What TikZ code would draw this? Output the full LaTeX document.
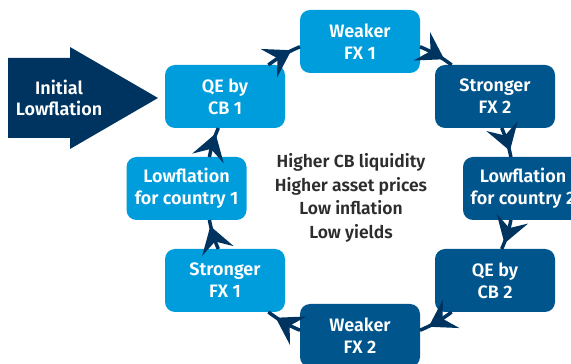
\documentclass[tikz,border=0pt]{standalone}
\usepackage{fontspec}
\setmainfont{Fira Sans}[BoldFont={Fira Sans SemiBold}]
\usetikzlibrary{arrows.meta,decorations.markings}
\definecolor{cblue}{RGB}{0,157,220}
\definecolor{cdark}{RGB}{0,86,140}
\definecolor{cnavy}{RGB}{0,52,96}
\definecolor{ctext}{RGB}{45,45,45}
\tikzset{
  stage/.style={rounded corners=10pt, minimum width=120pt, minimum height=63pt,
    inner sep=0pt, outer sep=0pt, text=white, align=center,
    font=\fontsize{18}{22}\selectfont\bfseries},
  stageA/.style={stage, fill=cblue},
  stageB/.style={stage, fill=cdark},
  flow/.style={draw=cnavy, color=cnavy, line width=3.5pt, postaction={decorate},
    decoration={markings, mark=at position 0.5 with
      {\arrow[xshift=9pt]{Stealth[length=26pt,width=33pt,inset=10pt,line width=0pt]}}}},
}
\begin{document}
\begin{tikzpicture}[x=1pt,y=1pt]
\clip (0,0) rectangle (571,364);
\fill[white] (0,0) rectangle (571,364);

% incoming block arrow
\fill[cnavy] (8,306) -- (70,306) -- (70,317) -- (158,266) -- (70,215) -- (70,226) -- (8,226) -- cycle;
\node[text=white, align=center, font=\fontsize{18}{21}\selectfont\bfseries] (init) at (59,266) {Initial\\Lowflation};

% the cycle of stages
\node[stageA] (qe1)  at (225,267.5) {QE by\\CB 1};
\node[stageA] (wfx1) at (360,322.5) {Weaker\\FX 1};
\node[stageB] (sfx2) at (495,267.5) {Stronger\\FX 2};
\node[stageB] (low2) at (523,175.5) {Lowflation\\for country 2};
\node[stageB] (qe2)  at (495,83.5)  {QE by\\CB 2};
\node[stageB] (wfx2) at (360,28.5)  {Weaker\\FX 2};
\node[stageA] (sfx1) at (225,83.5)  {Stronger\\FX 1};
\node[stageA] (low1) at (186.5,175.5) {Lowflation\\for country 1};

% centre summary
\node[text=ctext, align=center, font=\fontsize{17.5}{23.5}\selectfont\bfseries] (effects) at (351,166)
  {Higher CB liquidity\\Higher asset prices\\Low inflation\\Low yields};

% clockwise links along the ring
\draw[flow] (qe1.36)   to[bend left=7] (wfx1.185);
\draw[flow] (wfx1.355) to[bend left=7] (sfx2.144);
\draw[flow] (sfx2.282) to[bend left=6] (low2.111);
\draw[flow] (low2.249) to[bend left=6] (qe2.78);
\draw[flow] (qe2.216)  to[bend left=7] (wfx2.5);
\draw[flow] (wfx2.175) to[bend left=7] (sfx1.324);
\draw[flow] (sfx1.102) to[bend left=6] (low1.306);
\draw[flow] (low1.54)  to[bend left=6] (qe1.258);
\end{tikzpicture}
\end{document}
